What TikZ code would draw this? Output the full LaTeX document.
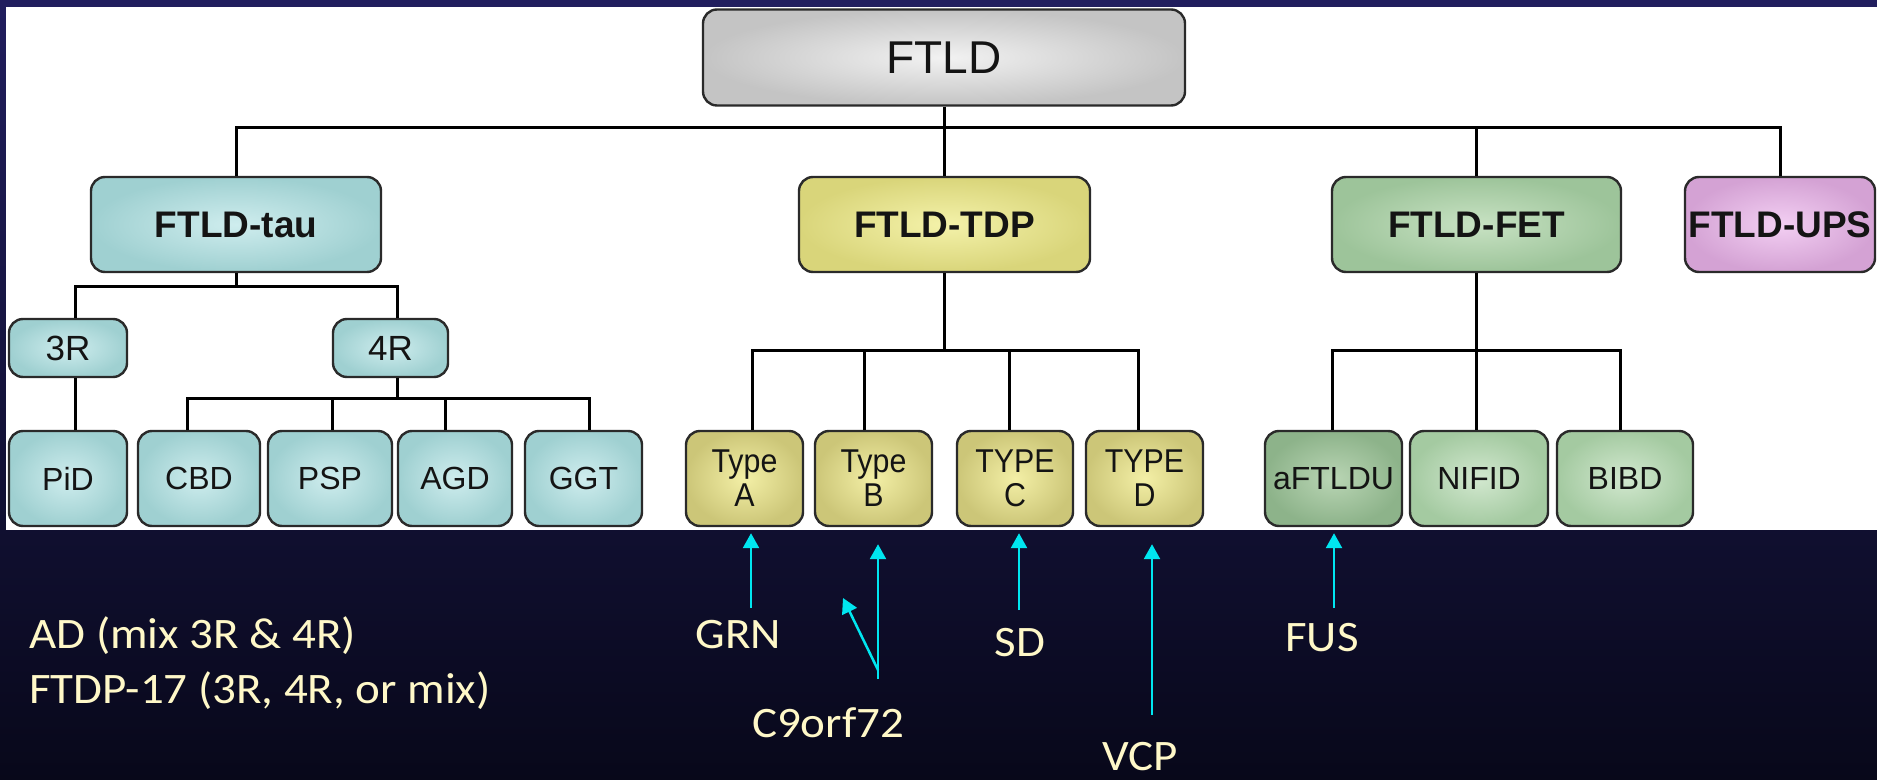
\documentclass[tikz,border=0pt]{standalone}
\usepackage{graphicx}
\usepackage{fontspec}
\setmainfont{Liberation Sans}
\newfontfamily\calib{Carlito}
\usetikzlibrary{arrows.meta}

\definecolor{bgTop}{HTML}{211E5E}
\definecolor{bgBot}{HTML}{08081A}
\definecolor{boxline}{HTML}{2A2A2A}
\definecolor{ink}{HTML}{141414}
\definecolor{grayIn}{HTML}{F2F2F2}
\definecolor{grayOut}{HTML}{C4C4C4}
\definecolor{tauIn}{HTML}{CFEDEE}
\definecolor{tauOut}{HTML}{9FD0D1}
\definecolor{tdpIn}{HTML}{F4F2AA}
\definecolor{tdpOut}{HTML}{D9D57A}
\definecolor{typeIn}{HTML}{F3EFA6}
\definecolor{typeOut}{HTML}{CCC678}
\definecolor{fetIn}{HTML}{C8E2C3}
\definecolor{fetOut}{HTML}{9DC49A}
\definecolor{fetAIn}{HTML}{B9D5B4}
\definecolor{fetAOut}{HTML}{8DB38A}
\definecolor{fetBIn}{HTML}{D2E8CF}
\definecolor{fetBOut}{HTML}{A4CAA1}
\definecolor{upsIn}{HTML}{F3CFF3}
\definecolor{upsOut}{HTML}{D4A2D4}
\definecolor{geneCyan}{HTML}{00E6F0}
\definecolor{cream}{HTML}{FFF8C8}

\newcommand\wide[1]{\scalebox{1.08}[1]{#1}}
\newcommand\typelabel[2]{\scalebox{.92}[1]{#1}\\\scalebox{.92}[1]{#2}}

\begin{document}
\begin{tikzpicture}[x=0.5pt, y=-0.5pt,
  link/.style={draw=black, line width=1.5pt},
  tbox/.style={draw=boxline, line width=1.2pt, rounded corners=7pt,
    inner sep=0pt, align=center, text=ink},
  dims/.style 2 args={minimum width={#1*0.5pt}, minimum height={#2*0.5pt}},
  shGray/.style={inner color=grayIn, outer color=grayOut},
  shTau/.style={inner color=tauIn, outer color=tauOut},
  shTdp/.style={inner color=tdpIn, outer color=tdpOut},
  shType/.style={inner color=typeIn, outer color=typeOut},
  shFet/.style={inner color=fetIn, outer color=fetOut},
  shFetA/.style={inner color=fetAIn, outer color=fetAOut},
  shFetB/.style={inner color=fetBIn, outer color=fetBOut},
  shUps/.style={inner color=upsIn, outer color=upsOut},
  fTop/.style={font=\fontsize{23}{27}\selectfont},
  fHead/.style={font=\bfseries\fontsize{18.5}{22}\selectfont},
  fMid/.style={font=\fontsize{17.5}{21}\selectfont},
  fLeaf/.style={font=\fontsize{16}{19}\selectfont},
  fSub/.style={font=\fontsize{16.5}{17}\selectfont},
  gene/.style={draw=geneCyan, line width=1.25pt,
    -{Triangle[width=8pt,length=7.5pt]}},
  note/.style={text=cream, inner sep=0pt,
    font=\calib\fontsize{21.75}{26}\selectfont},
]
\useasboundingbox (0,0) rectangle (1877,780);

% slide background and white figure panel
\fill[top color=bgTop, bottom color=bgBot] (0,0) rectangle (1877,780);
\fill[white] (6,7) rectangle (1877,530);

% root and main classes
\node[tbox, dims={482}{96}, shGray, fTop] (ftld) at (944,57.5) {FTLD};
\node[tbox, dims={290}{95}, shTau, fHead] (tau) at (236,224.5) {FTLD-tau};
\node[tbox, dims={291}{95}, shTdp, fHead] (tdp) at (944.5,224.5) {FTLD-TDP};
\node[tbox, dims={289}{95}, shFet, fHead] (fet) at (1476.5,224.5) {FTLD-FET};
\node[tbox, dims={190}{95}, shUps, fHead] (ups) at (1780,224.5) {FTLD-UPS};

% tau isoforms
\node[tbox, dims={118}{58}, shTau, fMid] (r3) at (68,348) {3R};
\node[tbox, dims={115}{58}, shTau, fMid] (r4) at (390.5,348) {4R};

% leaves
\node[tbox, dims={118}{95}, shTau, fLeaf] (pid) at (68,478.5) {PiD};
\node[tbox, dims={122}{95}, shTau, fLeaf] (cbd) at (199,478.5) {CBD};
\node[tbox, dims={124}{95}, shTau, fLeaf] (psp) at (330,478.5) {PSP};
\node[tbox, dims={114}{95}, shTau, fLeaf] (agd) at (455,478.5) {AGD};
\node[tbox, dims={117}{95}, shTau, fLeaf] (ggt) at (583.5,478.5) {GGT};

\node[tbox, dims={117}{95}, shType, fSub] (ta) at (744.5,478.5) {\typelabel{Type}{A}};
\node[tbox, dims={117}{95}, shType, fSub] (tb) at (873.5,478.5) {\typelabel{Type}{B}};
\node[tbox, dims={116}{95}, shType, fSub] (tc) at (1015,478.5) {\typelabel{TYPE}{C}};
\node[tbox, dims={117}{95}, shType, fSub] (td) at (1144.5,478.5) {\typelabel{TYPE}{D}};

\node[tbox, dims={137}{95}, shFetA, fLeaf] (aftldu) at (1333.5,478.5) {aFTLDU};
\node[tbox, dims={138}{95}, shFetB, fLeaf] (nifid) at (1479,478.5) {NIFID};
\node[tbox, dims={136}{95}, shFetB, fLeaf] (bibd) at (1625,478.5) {BIBD};

% bus levels
\coordinate (busA) at (0,128);
\coordinate (busTau) at (0,287);
\coordinate (bus4R) at (0,398);
\coordinate (busLeaf) at (0,351);

% top level
\draw[link] (ftld.south) -- (ftld.south |- busA);
\draw[link] (tau.north) -- (tau.north |- busA) -- (ups.north |- busA) -- (ups.north);
\draw[link] (tdp.north) -- (tdp.north |- busA);
\draw[link] (fet.north) -- (fet.north |- busA);

% tau branch
\draw[link] (tau.south) -- (tau.south |- busTau);
\draw[link] ([xshift=3.5pt]r3.north) |- ([xshift=3.25pt]r4.north |- busTau)
  -- ([xshift=3.25pt]r4.north);
\draw[link] ([xshift=3.5pt]r3.south) -- ([xshift=3.5pt]pid.north);
\draw[link] ([xshift=3.25pt]r4.south) -- ([xshift=3.25pt]r4.south |- bus4R);
\draw[link] ([xshift=-6pt]cbd.north) |- ([xshift=2.75pt]ggt.north |- bus4R)
  -- ([xshift=2.75pt]ggt.north);
\draw[link] ([xshift=1pt]psp.north) -- ([xshift=1pt]psp.north |- bus4R);
\draw[link] ([xshift=-5pt]agd.north) -- ([xshift=-5pt]agd.north |- bus4R);

% TDP branch
\draw[link] (tdp.south) -- (tdp.south |- busLeaf);
\draw[link] ([xshift=3.75pt]ta.north) |- ([xshift=-3.25pt]td.north |- busLeaf)
  -- ([xshift=-3.25pt]td.north);
\draw[link] ([xshift=-4.75pt]tb.north) -- ([xshift=-4.75pt]tb.north |- busLeaf);
\draw[link] ([xshift=-3pt]tc.north) -- ([xshift=-3pt]tc.north |- busLeaf);

% FET branch
\draw[link] (fet.south) -- (fet.south |- nifid.north);
\draw[link] ([xshift=-0.75pt]aftldu.north) |- ([xshift=-2.5pt]bibd.north |- busLeaf)
  -- ([xshift=-2.5pt]bibd.north);

% genetic causes
\node[note, anchor=base west] (ad) at (29,648) {\wide{AD (mix 3R \& 4R)}};
\node[note, anchor=base west] (ftdp) at (29,703) {\wide{FTDP-17 (3R, 4R, or mix)}};
\node[note, anchor=base] (grn) at (738.5,648) {\wide{GRN}};
\node[note, anchor=base] (c9) at (828,737) {\wide{C9orf72}};
\node[note, anchor=base] (sd) at (1020,656) {\wide{SD}};
\node[note, anchor=base] (vcp) at (1140,770) {\wide{VCP}};
\node[note, anchor=base] (fus) at (1322,651) {\wide{FUS}};

\coordinate (grnTail) at (751,608);
\coordinate (c9Tail) at (878,679);
\coordinate (c9Fork) at (878,670);
\coordinate (c9Tip) at (843,598);
\coordinate (sdTail) at (1019,610);
\coordinate (vcpTail) at (1152,715);
\coordinate (fusTail) at (1334,608);

\draw[gene, shorten >=3pt] (grnTail) -- (grnTail |- ta.south);
\draw[gene, shorten >=8.5pt] (c9Tail) -- (c9Tail |- tb.south);
\draw[gene] (c9Fork) -- (c9Tip);
\draw[gene, shorten >=3pt] (sdTail) -- (sdTail |- tc.south);
\draw[gene, shorten >=8.5pt] (vcpTail) -- (vcpTail |- td.south);
\draw[gene, shorten >=3pt] (fusTail) -- (fusTail |- aftldu.south);
\end{tikzpicture}
\end{document}
